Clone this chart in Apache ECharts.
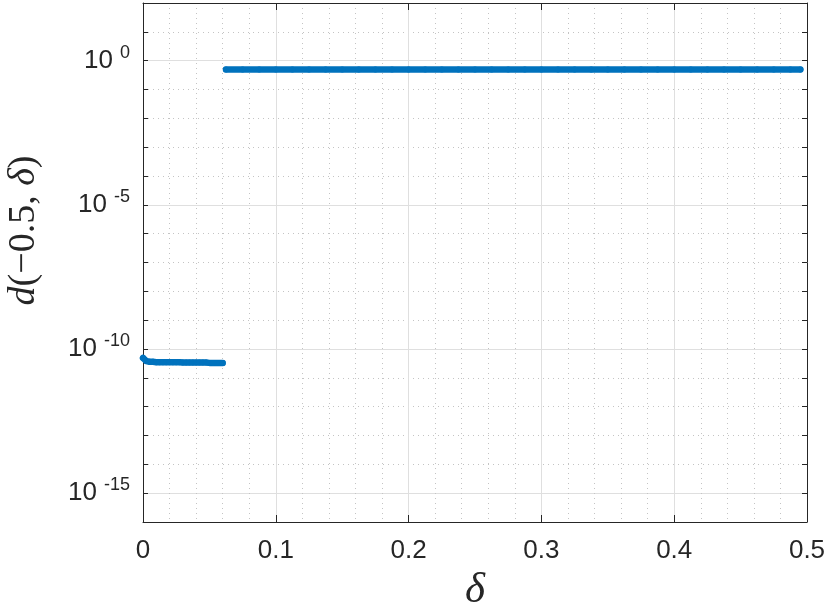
<!DOCTYPE html>
<html>
<head>
<meta charset="utf-8">
<script src="https://cdn.jsdelivr.net/npm/echarts@6/dist/echarts.min.js"></script>
<style>
html, body { margin: 0; padding: 0; background: #fff; }
#chart { width: 830px; height: 609px; }
</style>
</head>
<body>
<div id="chart"></div>
<script>
// delta values and d(-0.5, delta)
var deltaA = [0, 0.0025, 0.005, 0.0075, 0.01, 0.0125, 0.015, 0.0175, 0.02, 0.0225, 0.025, 0.0275,
	0.03, 0.0325, 0.035, 0.0375, 0.04, 0.0425, 0.045, 0.0475, 0.05, 0.0525, 0.055, 0.0575, 0.06];
var dA = [4.9e-11, 3.8e-11, 3.6e-11, 3.6e-11, 3.5e-11, 3.5e-11, 3.5e-11, 3.5e-11, 3.5e-11, 3.5e-11,
	3.5e-11, 3.5e-11, 3.4e-11, 3.4e-11, 3.4e-11, 3.4e-11, 3.4e-11, 3.4e-11, 3.4e-11, 3.4e-11,
	3.3e-11, 3.3e-11, 3.3e-11, 3.3e-11, 3.3e-11];

var deltaB = [0.0625, 0.075, 0.0875, 0.1, 0.1125, 0.125, 0.1375, 0.15, 0.1625, 0.175, 0.1875, 0.2,
	0.2125, 0.225, 0.2375, 0.25, 0.2625, 0.275, 0.2875, 0.3, 0.3125, 0.325, 0.3375, 0.35, 0.3625,
	0.375, 0.3875, 0.4, 0.4125, 0.425, 0.4375, 0.45, 0.4625, 0.475, 0.4875, 0.495];
var dB = [0.49, 0.49, 0.49, 0.49, 0.49, 0.49, 0.49, 0.49, 0.49, 0.49, 0.49, 0.49,
	0.49, 0.49, 0.49, 0.49, 0.49, 0.49, 0.49, 0.49, 0.49, 0.49, 0.49, 0.49, 0.49,
	0.49, 0.49, 0.49, 0.49, 0.49, 0.49, 0.49, 0.49, 0.49, 0.49, 0.49];

// axis ranges (y in powers of ten)
var xTicks = [0, 0.1, 0.2, 0.3, 0.4, 0.5];
var yExpMin = -16, yExpMax = 2;
var yLabelExps = [0, -5, -10, -15];

var blue = '#0072BD';
var axisColor = '#262626';

function toPairs(xs, ys) {
	var out = [];
	for (var i = 0; i < xs.length; i++) out.push([xs[i], Math.log10(ys[i])]);
	return out;
}

var chart = echarts.init(document.getElementById('chart'), null, { renderer: 'canvas' });

var seriesStyle = {
	type: 'line',
	showSymbol: true,
	symbol: 'circle',
	symbolSize: 6,
	itemStyle: { color: blue },
	lineStyle: { color: blue, width: 6.5, cap: 'round', join: 'round' },
	animation: false
};

chart.setOption({
	animation: false,
	grid: { left: 143, right: 23, top: 3, bottom: 87, containLabel: false, outerBoundsMode: 'none' },
	xAxis: [{
		type: 'value',
		min: xTicks[0],
		max: xTicks[xTicks.length - 1],
		interval: 0.1,
		position: 'bottom',
		name: 'δ',
		nameLocation: 'middle',
		nameGap: 47,
		nameTextStyle: { fontFamily: 'Liberation Serif', fontStyle: 'italic', fontSize: 43, color: axisColor, verticalAlign: 'top' },
		axisLine: { show: true, onZero: false, lineStyle: { color: axisColor, width: 1 } },
		axisTick: { show: true, inside: true, length: 7, lineStyle: { color: axisColor } },
		minorTick: { show: false, splitNumber: 5 },
		axisLabel: { fontFamily: 'Liberation Sans', fontSize: 26, color: axisColor, margin: 16 },
		splitLine: { show: true, lineStyle: { color: '#dfdfdf', width: 1 } },
		minorSplitLine: { show: true, lineStyle: { color: '#c4c4c4', type: [1, 4], width: 1 } }
	}, {
		type: 'value',
		min: xTicks[0],
		max: xTicks[xTicks.length - 1],
		interval: 0.1,
		position: 'top',
		axisLine: { show: true, onZero: false, lineStyle: { color: axisColor, width: 1 } },
		axisTick: { show: true, inside: true, length: 7, lineStyle: { color: axisColor } },
		axisLabel: { show: false },
		splitLine: { show: false }
	}],
	yAxis: [{
		type: 'value',
		min: yExpMin,
		max: yExpMax,
		interval: 1,
		position: 'left',
		name: '{i|d}(−0.5, {i|δ})',
		nameLocation: 'middle',
		nameGap: 100,
		nameRotate: 90,
		nameTextStyle: {
			fontFamily: 'Liberation Serif', fontSize: 38, color: axisColor,
			padding: [0, 0, 0, 64],
			rich: { i: { fontFamily: 'Liberation Serif', fontStyle: 'italic', fontSize: 38, color: axisColor } }
		},
		axisLine: { show: true, onZero: false, lineStyle: { color: axisColor, width: 1 } },
		axisTick: { show: true, inside: true, length: 5, lineStyle: { color: axisColor } },
		axisLabel: {
			margin: 13,
			formatter: function (v) {
				if (yLabelExps.indexOf(v) < 0) return '';
				return '{b|10}{e|' + (v < 0 ? '-' + (-v) : v) + '}';
			},
			rich: {
				b: { fontFamily: 'Liberation Sans', fontSize: 26, color: axisColor },
				e: { fontFamily: 'Liberation Sans', fontSize: 18, color: axisColor, padding: [0, 0, 16, 7] }
			}
		},
		splitLine: { show: true, lineStyle: { color: '#c4c4c4', type: [1, 4], width: 1 } }
	}, {
		type: 'value',
		min: yExpMin,
		max: yExpMax,
		interval: 1,
		position: 'right',
		axisLine: { show: true, onZero: false, lineStyle: { color: axisColor, width: 1 } },
		axisTick: { show: true, inside: true, length: 5, lineStyle: { color: axisColor } },
		axisLabel: { show: false },
		// solid lines only at labelled decades (-15, -10, -5, 0)
		splitLine: { show: true, lineStyle: { color: ['rgba(0,0,0,0)', '#dfdfdf', 'rgba(0,0,0,0)', 'rgba(0,0,0,0)', 'rgba(0,0,0,0)'], width: 1 } }
	}],
	series: [
		Object.assign({ data: toPairs(deltaA, dA) }, seriesStyle),
		Object.assign({ data: toPairs(deltaB, dB) }, seriesStyle)
	]
});
</script>
</body>
</html>
